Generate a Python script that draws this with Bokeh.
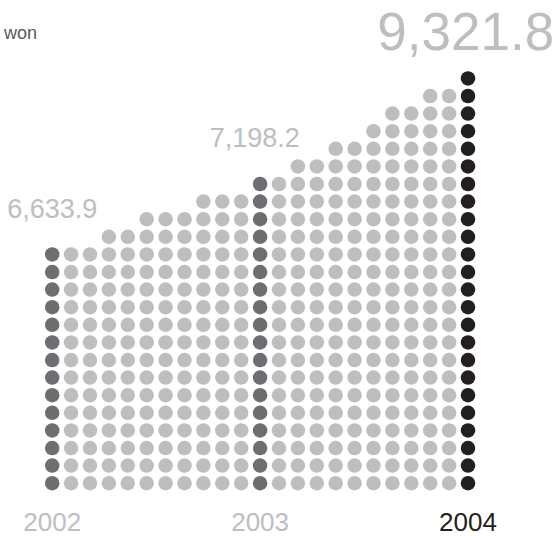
from bokeh.plotting import figure
from bokeh.models import ColumnDataSource, Range1d
from bokeh.core.properties import value
from bokeh.embed import file_html
from bokeh.resources import INLINE

# ---- data ----
years = ["2002", "2003", "2004"]
values = [6633.9, 7198.2, 9321.8]
value_labels = ["6,633.9", "7,198.2", "9,321.8"]
year_columns = [0, 11, 22]
column_heights = [14, 14, 14, 15, 15, 16, 16, 16, 17, 17, 17, 18,
                  18, 19, 19, 20, 20, 21, 22, 22, 23, 23, 24]
unit_label = "won"

# ---- styles ----
LIGHT = "#bcbec0"
MID = "#6d6e71"
BLACK = "#231f20"
FONT = "Liberation Sans"

xs, ys, cols = [], [], []
for i, h in enumerate(column_heights):
    if i == year_columns[-1]:
        c = BLACK
    elif i in year_columns:
        c = MID
    else:
        c = LIGHT
    for k in range(h):
        xs.append(i)
        ys.append(k)
        cols.append(c)
dots = ColumnDataSource(dict(x=xs, y=ys, color=cols))

p = figure(width=558, height=536, output_backend="svg", toolbar_location=None,
           x_range=Range1d(-2.735, 26.788), y_range=Range1d(-3.028, 27.426),
           min_border=0)
p.axis.visible = False
p.grid.visible = False
p.outline_line_color = None
p.background_fill_color = "white"
p.border_fill_color = "white"

p.scatter("x", "y", source=dots, size=14.5, fill_color="color", line_color=None)

# value labels above the year columns
small_src = ColumnDataSource(dict(
    x=[year_columns[0], year_columns[1] - 0.28],
    y=[column_heights[year_columns[0]] - 1 + 2.58, column_heights[year_columns[1]] - 1 + 2.62],
    t=[value_labels[0], value_labels[1]]))
p.text("x", "y", text="t", source=small_src, text_align="center",
       text_baseline="alphabetic", text_font=value(FONT), text_font_size="27px",
       text_color=LIGHT)
big_src = ColumnDataSource(dict(
    x=[year_columns[2] - 0.12], y=[column_heights[year_columns[2]] - 1 + 2.68], t=[value_labels[2]]))
p.text("x", "y", text="t", source=big_src, text_align="center",
       text_baseline="alphabetic", text_font=value(FONT), text_font_size="53px",
       text_color=LIGHT)

# year labels
year_src = ColumnDataSource(dict(x=year_columns, y=[-2.22] * 3, t=years,
                                 color=[LIGHT, LIGHT, BLACK]))
p.text("x", "y", text="t", source=year_src, text_align="center",
       text_baseline="alphabetic", text_font=value(FONT), text_font_size="26px",
       text_color="color")

# unit label
p.text(x=[-2.55], y=[25.6], text=[unit_label], text_align="left",
       text_baseline="alphabetic", text_font=value(FONT), text_font_size="18px",
       text_color="#58595b")

open("out.html", "w").write(file_html(p, INLINE))
